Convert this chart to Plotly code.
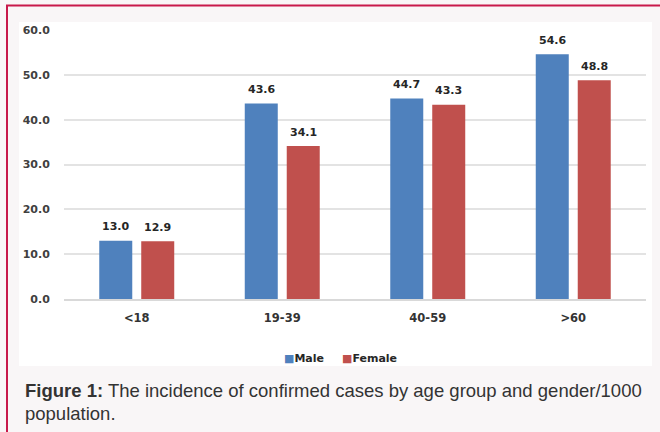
import plotly.graph_objects as go

# Incidence of confirmed cases per 1000 population, by age group and gender
age_groups = ["<18", "19-39", "40-59", ">60"]
male = [13.0, 43.6, 44.7, 54.6]
female = [12.9, 34.1, 43.3, 48.8]
y_ticks = [0, 10, 20, 30, 40, 50, 60]
y_tick_labels = ["0.0", "10.0", "20.0", "30.0", "40.0", "50.0", "60.0"]

BLUE = "#4f81bd"
RED = "#c0504d"
PAGE = "#f9f6f7"
BORDER = "#c8194b"
CHART_FONT = "DejaVu Sans"
CAPTION_FONT = "Liberation Sans"

# plot area in pixels: x 64..646, y 30 (top) .. 299 (zero line)
def px_x(px):
    return (px - 64) / 582

def px_y(py):
    return (299 - py) / 269

fig = go.Figure()
fig.add_trace(go.Bar(name="Male", x=age_groups, y=male, marker=dict(color=BLUE, line_width=0)))
fig.add_trace(go.Bar(name="Female", x=age_groups, y=female, marker=dict(color=RED, line_width=0)))

# value labels above each bar
annotations = []
for vals, shift in ((male, -21), (female, 21)):
    for cat, v in zip(age_groups, vals):
        annotations.append(dict(
            x=cat, y=v, xref="x", yref="y", text=f"{v:.1f}", showarrow=False,
            xshift=shift, yshift=14, yanchor="middle",
            font=dict(family=CHART_FONT, size=11, color="#262626", weight="bold"),
        ))

# legend row
for name, color, left in (("Male", BLUE, 282), ("Female", RED, 340)):
    annotations.append(dict(
        xref="paper", yref="paper", x=px_x(left), y=px_y(358.5),
        xanchor="left", yanchor="middle", showarrow=False,
        text=f"<span style='color:{color}'>■</span>{name}",
        font=dict(family=CHART_FONT, size=11, color="#262626", weight="bold"),
    ))

# figure caption
cap_font = dict(family=CAPTION_FONT, size=18.5, color="#333333")
annotations.append(dict(
    xref="paper", yref="paper", x=px_x(23), y=px_y(390.5), xanchor="left", yanchor="middle",
    showarrow=False,
    text="<b>Figure 1:</b> The incidence of confirmed cases by age group and gender/1000",
    font=cap_font,
))
annotations.append(dict(
    xref="paper", yref="paper", x=px_x(23), y=px_y(413.5), xanchor="left", yanchor="middle",
    showarrow=False, text="population.", font=cap_font,
))

shapes = [
    # white chart panel
    dict(type="rect", xref="paper", yref="paper", layer="below",
         x0=px_x(19), x1=px_x(652), y0=px_y(366), y1=px_y(22),
         fillcolor="white", line_width=0),
    # frame lines
    dict(type="line", xref="paper", yref="paper", layer="above",
         x0=px_x(6), x1=px_x(662), y0=px_y(5.5), y1=px_y(5.5),
         line=dict(color=BORDER, width=2)),
    dict(type="line", xref="paper", yref="paper", layer="above",
         x0=px_x(7), x1=px_x(7), y0=px_y(5), y1=px_y(440),
         line=dict(color=BORDER, width=2)),
]

fig.update_layout(
    width=660, height=432,
    margin=dict(l=64, r=14, t=30, b=133),
    paper_bgcolor=PAGE,
    plot_bgcolor="rgba(0,0,0,0)",
    barmode="group", bargap=0.423, bargroupgap=0.214,
    showlegend=False,
    annotations=annotations,
    shapes=shapes,
    font=dict(family=CHART_FONT),
)
fig.update_xaxes(
    showgrid=False, showline=True, linecolor="#d9d9d9", linewidth=1.5,
    ticks="outside", ticklen=7, tickcolor="rgba(0,0,0,0)",
    tickfont=dict(family=CHART_FONT, size=11.5, color="#333333", weight="bold"),
)
fig.update_yaxes(
    range=[0, 60], tickvals=y_ticks, ticktext=y_tick_labels,
    showgrid=True, gridcolor="#e3e3e3", gridwidth=1.5, zeroline=False,
    ticks="outside", ticklen=11, tickcolor="rgba(0,0,0,0)",
    tickfont=dict(family=CHART_FONT, size=11, color="#404040", weight="bold"),
)

fig.write_html("out.html")
